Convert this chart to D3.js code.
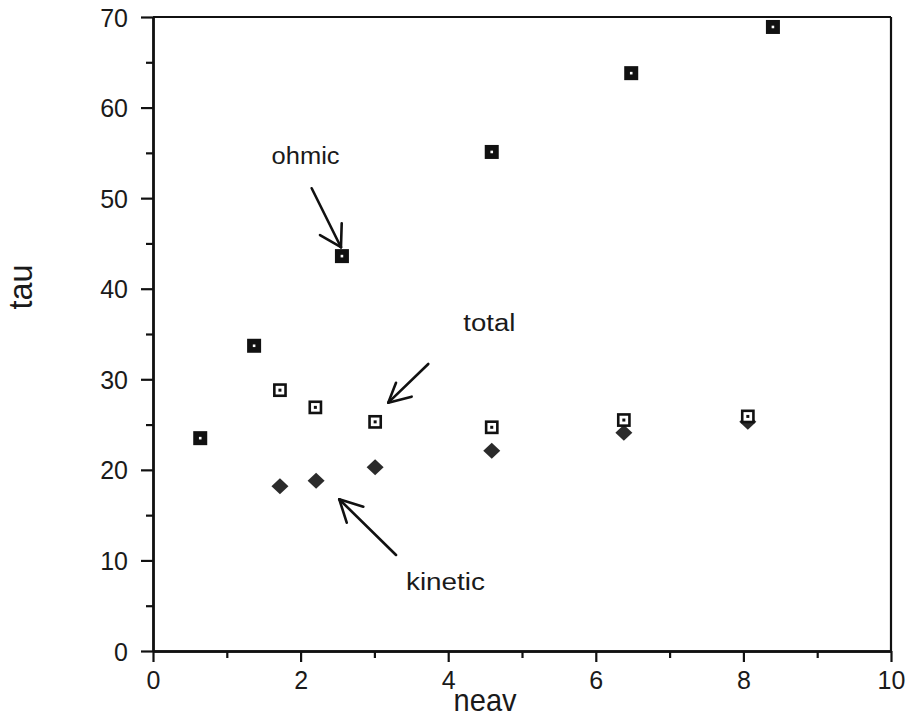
<!DOCTYPE html>
<html>
<head>
<meta charset="utf-8">
<script src="https://cdn.jsdelivr.net/npm/d3@7"></script>
<style>
  html, body { margin: 0; padding: 0; background: #fff; }
  svg { display: block; }
</style>
</head>
<body>
<svg id="chart" width="907" height="719"></svg>
<script>
// ---------------- DATA ----------------
const xTicksMajor = [0, 2, 4, 6, 8, 10];
const xTicksMinor = [1, 3, 5, 7, 9];
const yTicksMajor = [0, 10, 20, 30, 40, 50, 60, 70];
const yTicksMinor = [5, 15, 25, 35, 45, 55, 65];

const ohmicNeav = [0.64, 1.37, 2.56, 4.59, 6.48, 8.40];
const ohmicTau  = [23.5, 33.7, 43.6, 55.1, 63.8, 68.9];

const totalNeav = [1.72, 2.20, 3.01, 4.59, 6.38, 8.06];
const totalTau  = [28.8, 26.9, 25.3, 24.7, 25.5, 25.9];

const kineticNeav = [1.72, 2.21, 3.01, 4.59, 6.38, 8.06];
const kineticTau  = [18.2, 18.8, 20.3, 22.1, 24.1, 25.3];

const xTitle = "neav";
const yTitle = "tau";

// annotations (in data units): label, label anchor, arrow shaft start, tip, two barbs
const annLabels = ["ohmic", "total", "kinetic"];
const annLabelPos = [[1.607, 53.77], [4.205, 35.37], [3.428, 6.735]];
const annStart = [[2.150, 51.09], [3.730, 31.69], [3.293, 10.60]];
const annTip   = [[2.547, 44.58], [3.188, 27.42], [2.524, 16.75]];
const annBarbA = [[2.263, 45.93], [3.293, 29.62], [2.625, 14.17]];
const annBarbB = [[2.557, 47.22], [3.505, 28.08], [2.850, 15.93]];

// ---------------- CHART ----------------
(function () {
const svg = d3.select("#chart");
const pLeft = 153, pRight = 891, pTop = 17, pBottom = 651;
const x = d3.scaleLinear().domain([0, 10]).range([pLeft, pRight]);
const y = d3.scaleLinear().domain([0, 70]).range([pBottom, pTop]);

const FONT = "'Liberation Sans', Arial, Helvetica, sans-serif";

// frame (top and right)
svg.append("line").attr("x1", pLeft).attr("x2", pRight).attr("y1", pTop).attr("y2", pTop)
  .attr("stroke", "#111").attr("stroke-width", 2.2);
svg.append("line").attr("x1", pRight).attr("x2", pRight).attr("y1", pTop).attr("y2", pBottom)
  .attr("stroke", "#111").attr("stroke-width", 2.2);

function styleAxis(g) {
  g.selectAll("path.domain").attr("stroke", "#111").attr("stroke-width", 2.4);
  g.selectAll(".tick line").attr("stroke", "#111").attr("stroke-width", 2.2);
  g.selectAll(".tick text").attr("font-family", FONT).attr("font-size", 25)
    .attr("fill", "#1a1a1a");
}

// y axis
const yMinor = svg.append("g").attr("transform", `translate(${pLeft},0)`)
  .call(d3.axisLeft(y).tickValues(yTicksMinor).tickSize(7).tickSizeOuter(0).tickFormat(""));
styleAxis(yMinor);
const yMajor = svg.append("g").attr("transform", `translate(${pLeft},0)`)
  .call(d3.axisLeft(y).tickValues(yTicksMajor).tickSize(12).tickSizeOuter(0).tickPadding(13)
    .tickFormat(d3.format("d")));
styleAxis(yMajor);
yMajor.selectAll(".tick text").attr("dy", "0.36em");

// x axis
const xMinor = svg.append("g").attr("transform", `translate(0,${pBottom})`)
  .call(d3.axisBottom(x).tickValues(xTicksMinor).tickSize(7).tickSizeOuter(0).tickFormat(""));
styleAxis(xMinor);
const xMajor = svg.append("g").attr("transform", `translate(0,${pBottom})`)
  .call(d3.axisBottom(x).tickValues(xTicksMajor).tickSize(11).tickSizeOuter(0).tickPadding(9)
    .tickFormat(d3.format("d")));
styleAxis(xMajor);

// axis titles
svg.append("text")
  .attr("x", x(4.5)).attr("y", 711)
  .attr("text-anchor", "middle")
  .attr("font-family", FONT).attr("font-size", 32)
  .attr("textLength", 63).attr("lengthAdjust", "spacingAndGlyphs")
  .attr("fill", "#1a1a1a")
  .text(xTitle);

svg.append("text")
  .attr("transform", `translate(32,${y(40.2)}) rotate(-90)`)
  .attr("text-anchor", "middle")
  .attr("font-family", FONT).attr("font-size", 33)
  .attr("textLength", 45).attr("lengthAdjust", "spacingAndGlyphs")
  .attr("fill", "#1a1a1a")
  .text(yTitle);

// ---------------- MARKS ----------------
const ohmic = ohmicNeav.map((n, i) => ({ n, t: ohmicTau[i] }));
const total = totalNeav.map((n, i) => ({ n, t: totalTau[i] }));
const kinetic = kineticNeav.map((n, i) => ({ n, t: kineticTau[i] }));

// kinetic: filled diamonds
svg.append("g").selectAll("path").data(kinetic).join("path")
  .attr("transform", d => `translate(${x(d.n)},${y(d.t)})`)
  .attr("d", "M0,-8 L8.5,0 L0,8 L-8.5,0 Z")
  .attr("fill", "#2b2b2b");

// total: open squares with centre dot
const tg = svg.append("g").selectAll("g").data(total).join("g")
  .attr("transform", d => `translate(${x(d.n)},${y(d.t)})`);
tg.append("rect").attr("x", -5.6).attr("y", -5.6).attr("width", 11.2).attr("height", 11.2)
  .attr("fill", "#fff").attr("stroke", "#111").attr("stroke-width", 2.6);
tg.append("rect").attr("x", -1.5).attr("y", -1.5).attr("width", 3).attr("height", 3).attr("fill", "#111");

// ohmic: filled squares with white centre dot
const og = svg.append("g").selectAll("g").data(ohmic).join("g")
  .attr("transform", d => `translate(${x(d.n)},${y(d.t)})`);
og.append("rect").attr("x", -7).attr("y", -7).attr("width", 14).attr("height", 14).attr("fill", "#111");
og.append("rect").attr("x", -1.3).attr("y", -1.3).attr("width", 2.6).attr("height", 2.6).attr("fill", "#fff");

// ---------------- ANNOTATIONS ----------------
const annLens = [68, 52, 79];
annLabels.forEach((lab, i) => {
  svg.append("text")
    .attr("x", x(annLabelPos[i][0])).attr("y", y(annLabelPos[i][1]))
    .attr("font-family", FONT).attr("font-size", 23)
    .attr("textLength", annLens[i]).attr("lengthAdjust", "spacingAndGlyphs")
    .attr("fill", "#1a1a1a")
    .text(lab);
  const g = svg.append("g").attr("stroke", "#111").attr("stroke-width", 2.6)
    .attr("stroke-linecap", "round").attr("fill", "none");
  const tip = annTip[i];
  [annStart[i], annBarbA[i], annBarbB[i]].forEach(p => {
    g.append("line")
      .attr("x1", x(p[0])).attr("y1", y(p[1]))
      .attr("x2", x(tip[0])).attr("y2", y(tip[1]));
  });
});
})();
</script>
</body>
</html>
